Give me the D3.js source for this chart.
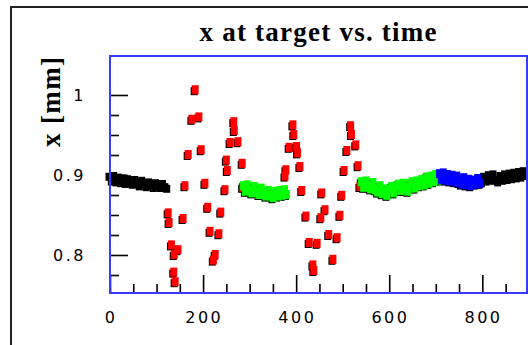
<!DOCTYPE html>
<html>
<head>
<meta charset="utf-8">
<script src="https://cdn.jsdelivr.net/npm/d3@7"></script>
<style>
body { margin: 0; background: #fff; }
svg { display: block; }
</style>
</head>
<body>
<script>
var w = 528;
var h = 345;

// [time, x in mm] per run phase
var black1 = [[0,0.899],[5,0.893],[10,0.900],[15,0.892],[20,0.898],[25,0.891],[30,0.897],[35,0.890],[40,0.896],[45,0.891],[50,0.889],[55,0.895],[60,0.890],[65,0.887],[70,0.894],[75,0.889],[80,0.886],[85,0.892],[90,0.888],[95,0.885],[100,0.891],[105,0.887],[110,0.885],[115,0.890],[120,0.886],[124,0.884]];
var red1 = [[125,0.852],[127,0.840],[132,0.812],[137,0.778],[140,0.766],[138,0.800],[146,0.806],[157,0.845],[161,0.886],[168,0.925],[176,0.969],[183,1.006],[191,0.972],[196,0.931],[204,0.889],[210,0.859],[215,0.829],[222,0.793],[226,0.800],[234,0.826],[238,0.853],[247,0.881],[250,0.918],[252,0.905],[258,0.940],[266,0.966],[267,0.955],[275,0.941],[284,0.914],[285,0.884]];
var green1 = [[287,0.886],[291,0.879],[295,0.887],[300,0.880],[305,0.877],[310,0.885],[315,0.878],[320,0.875],[325,0.883],[330,0.876],[335,0.873],[340,0.880],[345,0.874],[350,0.871],[355,0.879],[360,0.873],[365,0.880],[370,0.874],[375,0.881],[379,0.875]];
var red2 = [[376,0.898],[378,0.906],[385,0.934],[393,0.962],[395,0.950],[401,0.935],[403,0.927],[408,0.910],[412,0.880],[421,0.848],[428,0.815],[436,0.787],[438,0.780],[445,0.814],[453,0.846],[455,0.877],[462,0.856],[470,0.825],[479,0.794],[488,0.821],[494,0.849],[498,0.874],[503,0.905],[509,0.930],[517,0.961],[519,0.950],[528,0.937],[533,0.911],[537,0.885]];
var green2 = [[540,0.891],[545,0.884],[550,0.892],[555,0.885],[560,0.882],[565,0.890],[570,0.881],[575,0.878],[580,0.886],[585,0.876],[590,0.882],[595,0.874],[600,0.881],[605,0.885],[610,0.877],[615,0.886],[620,0.888],[625,0.880],[630,0.889],[635,0.883],[640,0.879],[645,0.889],[650,0.891],[655,0.883],[660,0.892],[665,0.886],[670,0.894],[675,0.887],[680,0.897],[685,0.889],[690,0.898],[695,0.891],[700,0.900],[705,0.893]];
var blue1 = [[708,0.901],[712,0.894],[716,0.902],[720,0.893],[725,0.900],[730,0.892],[735,0.899],[740,0.891],[745,0.898],[750,0.890],[755,0.888],[760,0.896],[765,0.887],[770,0.894],[775,0.886],[780,0.893],[785,0.888],[790,0.895],[795,0.889]];
var black2 = [[800,0.891],[805,0.899],[810,0.893],[815,0.901],[820,0.894],[825,0.902],[830,0.895],[835,0.892],[840,0.900],[845,0.894],[850,0.902],[855,0.895],[860,0.903],[865,0.896],[870,0.904],[875,0.897],[880,0.905],[885,0.898],[890,0.906],[895,0.900]];

var xMajor = [0, 200, 400, 600, 800];
var xMinor = [50, 100, 150, 250, 300, 350, 450, 500, 550, 650, 700, 750, 850];
var yMajor = [0.8, 0.9, 1.0];
var yMinor = [0.775, 0.825, 0.85, 0.875, 0.925, 0.95, 0.975];
var yLabels = ['0.8', '0.9', '1'];

var series = [
    {data: black1, color: '#000000'},
    {data: red1, color: '#ff0000'},
    {data: green1, color: '#00ff00'},
    {data: red2, color: '#ff0000'},
    {data: green2, color: '#00ff00'},
    {data: blue1, color: '#0000ff'},
    {data: black2, color: '#000000'}
];

var x = d3.scaleLinear().domain([0, 896]).range([110, 527]);
var y = d3.scaleLinear().domain([0.7525, 1.04875]).range([293, 56]);

var svg = d3.select('body')
.append('svg')
.attr('width', w)
.attr('height', h);

// outer frame
svg.append('rect')
.attr('x', 11).attr('y', 7)
.attr('width', 700).attr('height', 500)
.attr('fill', 'none')
.attr('stroke', '#222')
.attr('stroke-width', 2);

svg.append('text')
.attr('x', 318).attr('y', 41)
.attr('text-anchor', 'middle')
.attr('font-family', 'Liberation Serif, serif')
.attr('font-weight', 'bold')
.attr('font-size', 27)
.attr('textLength', 237)
.attr('lengthAdjust', 'spacing')
.text('x at target vs. time');

svg.append('text')
.attr('transform', 'translate(60,102)rotate(-90)')
.attr('text-anchor', 'middle')
.attr('font-family', 'Liberation Serif, serif')
.attr('font-weight', 'bold')
.attr('font-size', 27)
.attr('textLength', 90)
.attr('lengthAdjust', 'spacing')
.text('x [mm]');

// points: black underlay then coloured marker
var g = svg.append('g');
series.forEach(function(s) {
    g.append('g')
    .selectAll('rect')
    .data(s.data)
    .enter().append('rect')
    .attr('x', function(d) { return x(d[0]) - 4.5; })
    .attr('y', function(d) { return y(d[1]) - 3; })
    .attr('width', 7)
    .attr('height', 8)
    .attr('fill', '#000');
});
series.forEach(function(s) {
    if (s.color === '#000000') return;
    g.append('g')
    .selectAll('rect')
    .data(s.data)
    .enter().append('rect')
    .attr('x', function(d) { return x(d[0]) - 3.5; })
    .attr('y', function(d) { return y(d[1]) - 5; })
    .attr('width', 7)
    .attr('height', 9)
    .attr('fill', s.color);
});

// ticks
function tickLines(axis, vals, len) {
    svg.append('g')
    .attr('transform', axis === 'x' ? 'translate(0,293)' : 'translate(110,0)')
    .call((axis === 'x' ? d3.axisBottom(x) : d3.axisLeft(y))
        .tickValues(vals)
        .tickSize(-len)
        .tickFormat(''))
    .call(function(sel) { sel.select('.domain').remove(); })
    .selectAll('line')
    .attr('stroke', '#000')
    .attr('stroke-width', 1.6);
}
tickLines('x', xMajor, 18);
tickLines('x', xMinor, 9);
tickLines('y', yMajor, 18);
tickLines('y', yMinor, 9);

svg.append('g')
.selectAll('text')
.data(xMajor)
.enter().append('text')
.attr('x', function(d) { return x(d) + 1.2; })
.attr('y', 323)
.attr('text-anchor', 'middle')
.attr('font-family', 'DejaVu Sans, sans-serif')
.attr('font-size', 16)
.attr('letter-spacing', 2.5)
.text(function(d) { return d; });

svg.append('g')
.selectAll('text')
.data(yMajor)
.enter().append('text')
.attr('x', 86)
.attr('y', function(d) { return y(d) + 6; })
.attr('text-anchor', 'end')
.attr('font-family', 'DejaVu Sans, sans-serif')
.attr('font-size', 16)
.attr('letter-spacing', 2.5)
.text(function(d, i) { return yLabels[i]; });

// plot frame
svg.append('rect')
.attr('x', 110).attr('y', 56)
.attr('width', 417).attr('height', 237)
.attr('fill', 'none')
.attr('stroke', '#3a3aff')
.attr('stroke-width', 2);
</script>
</body>
</html>
